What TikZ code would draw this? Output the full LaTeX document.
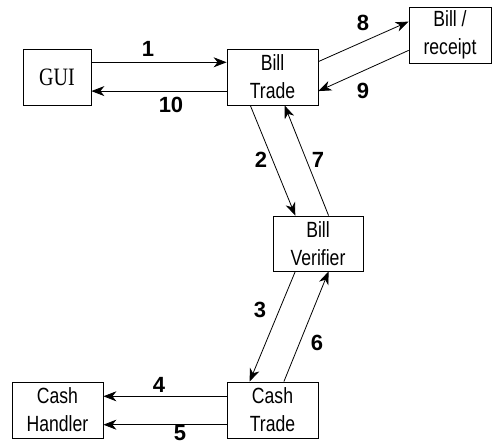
\documentclass[tikz,border=0pt]{standalone}
\usepackage{fontspec}
\setsansfont[FakeStretch=0.8]{Liberation Sans}
\setmainfont[FakeStretch=0.8]{Liberation Serif}
\newfontfamily\numfont{Liberation Sans}
\usetikzlibrary{arrows.meta}
\begin{document}
\begin{tikzpicture}[x=1pt,y=-1pt,
  box/.style={draw,line width=0.8pt,inner sep=0pt,align=center,
    font=\sffamily\fontsize{22}{28}\selectfont},
  num/.style={font=\numfont\bfseries\fontsize{22}{22}\selectfont,inner sep=0pt},
  conn/.style={line width=0.8pt,-{Stealth[length=13pt,width=10pt,inset=4pt]}}]
\useasboundingbox (0,0) rectangle (493,446);
\node[box,minimum width=68pt,minimum height=56pt,font=\rmfamily\fontsize{25}{28}\selectfont] (gui) at (57,77) {GUI};
\node[box,minimum width=91pt,minimum height=56pt] (bt) at (272.5,77) {Bill\\Trade};
\node[box,minimum width=82pt,minimum height=56pt] (br) at (450,35) {Bill /\\receipt};
\node[box,minimum width=90pt,minimum height=55pt] (bv) at (318,243.5) {Bill\\Verifier};
\node[box,minimum width=91pt,minimum height=56pt] (ch) at (57.5,410) {Cash\\Handler};
\node[box,minimum width=91pt,minimum height=56pt] (ct) at (272.5,410) {Cash\\Trade};
% connectors
\draw[conn] ([yshift=-13.7pt]gui.north east) -- ([yshift=-13.7pt]bt.north west);
\draw[conn] ([yshift=14.3pt]bt.south west) -- ([yshift=14.3pt]gui.south east);
\draw[conn] ([yshift=-13pt]bt.north east) -- ([yshift=-15pt]br.north west);
\draw[conn] ([yshift=13pt]br.south west) -- ([yshift=14.3pt]bt.south east);
\draw[conn] ([xshift=23.7pt]bt.south west) -- ([xshift=22.7pt]bv.north west);
\draw[conn] ([xshift=56pt]bv.north west) -- ([xshift=58pt]bt.south west);
\draw[conn] ([xshift=22.7pt]bv.south west) -- ([xshift=23pt]ct.north west);
\draw[conn] ([xshift=57.3pt]ct.north west) -- ([xshift=56pt]bv.south west);
\draw[conn] ([yshift=-14.7pt]ct.north west) -- ([yshift=-14.7pt]ch.north east);
\draw[conn] ([yshift=13.7pt]ct.south west) -- ([yshift=13.7pt]ch.south east);
% labels
\node[num] (l1) at (148,49) {1};
\node[num] (l10) at (171,105) {10};
\node[num] (l8) at (363,23) {8};
\node[num] (l9) at (363,91) {9};
\node[num] (l2) at (261,160) {2};
\node[num] (l7) at (318,160) {7};
\node[num] (l3) at (260,310) {3};
\node[num] (l6) at (317,343) {6};
\node[num] (l4) at (159,385) {4};
\node[num] (l5) at (180,433) {5};
\end{tikzpicture}
\end{document}
